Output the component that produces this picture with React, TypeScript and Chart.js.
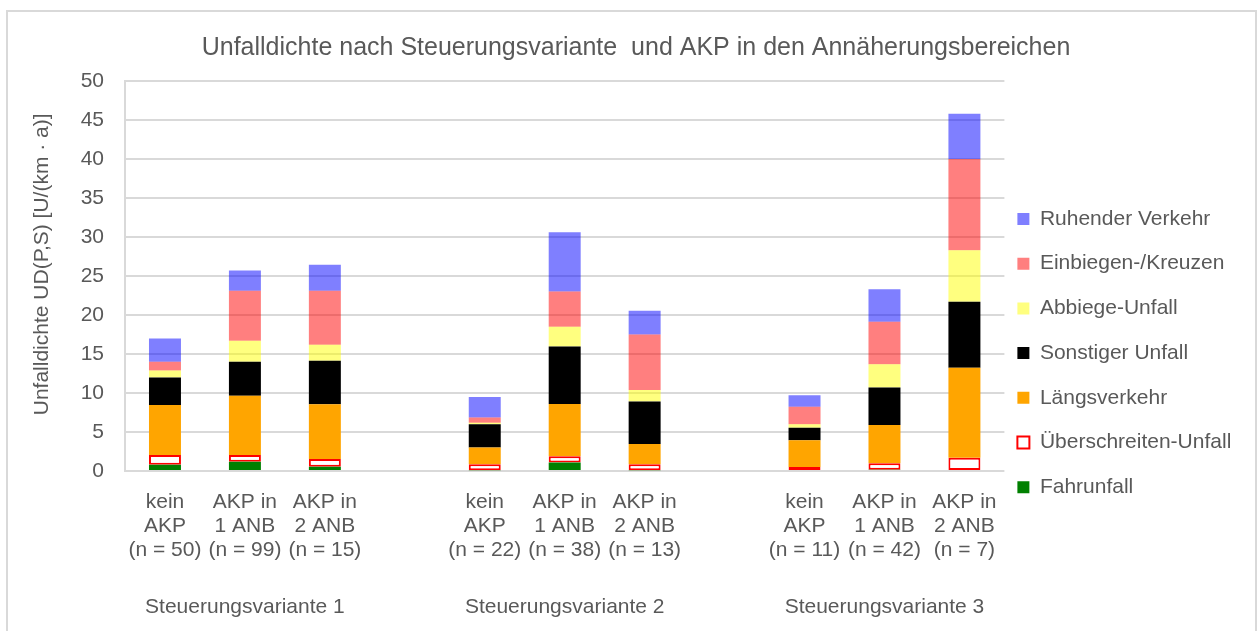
import React, { useEffect, useRef } from 'react';
import { Chart, registerables } from 'chart.js';

Chart.register(...registerables);

// ---- Data ----
const categories: (string | string[])[] = [
  ['kein', 'AKP', '(n = 50)'],
  ['AKP in', '1 ANB', '(n = 99)'],
  ['AKP in', '2 ANB', '(n = 15)'],
  '',
  ['kein', 'AKP', '(n = 22)'],
  ['AKP in', '1 ANB', '(n = 38)'],
  ['AKP in', '2 ANB', '(n = 13)'],
  '',
  ['kein', 'AKP', '(n = 11)'],
  ['AKP in', '1 ANB', '(n = 42)'],
  ['AKP in', '2 ANB', '(n = 7)'],
];

const groupLabels = [
  '', 'Steuerungsvariante 1', '', '',
  '', 'Steuerungsvariante 2', '', '',
  '', 'Steuerungsvariante 3', '',
];

const fahrunfall = [0.8, 1.2, 0.55, null, 0.1, 1.1, 0.1, null, 0, 0.15, 0];
const ueberschreiten = [1.25, 0.85, 1.0, null, 0.75, 0.8, 0.75, null, 0.5, 0.85, 1.7];
const laengsverkehr = [6.4, 7.6, 7.0, null, 2.15, 6.7, 2.6, null, 3.45, 4.9, 11.55];
const sonstiger = [3.55, 4.35, 5.6, null, 3.0, 7.35, 5.45, null, 1.6, 4.8, 8.45];
const abbiege = [0.9, 2.7, 2.05, null, 0.2, 2.55, 1.5, null, 0.45, 3.0, 6.6];
const einbiegen = [1.1, 6.4, 6.9, null, 0.65, 4.5, 7.1, null, 2.25, 5.45, 11.7];
const ruhend = [3.0, 2.6, 3.35, null, 2.65, 7.6, 3.05, null, 1.45, 4.15, 5.8];

const yMin = 0;
const yMax = 50;
const yStep = 5;

const TITLE = 'Unfalldichte nach Steuerungsvariante  und AKP in den Annäherungsbereichen';
const Y_TITLE = 'Unfalldichte UD(P,S) [U/(km · a)]';

const FONT = "'Liberation Sans', Arial, sans-serif";
const TEXT = '#595959';
const GRID = '#d9d9d9';

const legendPositioner = {
  id: 'legendPositioner',
  afterLayout(chart: any) {
    const lg = chart.legend;
    if (!lg) return;
    const pad = lg.options.labels.padding;
    const w = lg.width;
    lg.left = chart.chartArea.right + 13 - pad;
    lg.right = lg.left + w;
    lg.top = chart.chartArea.top + 127.5 - pad;
    lg.bottom = chart.height;
  },
};

export default function App() {
  const ref = useRef<HTMLCanvasElement | null>(null);

  useEffect(() => {
    if (!ref.current) return;
    Chart.defaults.font.family = FONT;
    const tickFont = { family: FONT, size: 21, lineHeight: 1.15 };
    const ds = (label: string, data: (number | null)[], bg: string, extra: any = {}) => ({
      label,
      data,
      backgroundColor: bg,
      borderWidth: 0,
      barPercentage: 0.4,
      categoryPercentage: 1.0,
      xAxisID: 'x',
      ...extra,
    });
    const chart = new Chart(ref.current, {
      type: 'bar',
      data: {
        labels: categories as any,
        datasets: [
          ds('Fahrunfall', fahrunfall, '#008000'),
          ds('Überschreiten-Unfall', ueberschreiten, '#ffffff', {
            borderColor: '#ff0000',
            borderWidth: 2,
            borderSkipped: false,
          }),
          ds('Längsverkehr', laengsverkehr, '#ffa500'),
          ds('Sonstiger Unfall', sonstiger, '#000000'),
          ds('Abbiege-Unfall', abbiege, 'rgba(255,255,0,0.5)'),
          ds('Einbiegen-/Kreuzen', einbiegen, 'rgba(255,0,0,0.5)'),
          ds('Ruhender Verkehr', ruhend, 'rgba(0,0,255,0.5)'),
        ] as any,
      },
      options: {
        animation: false,
        responsive: false,
        maintainAspectRatio: false,
        layout: { padding: { left: 20, right: 6, top: 0, bottom: 12 } },
        plugins: {
          title: {
            display: true,
            text: TITLE,
            color: TEXT,
            font: { family: FONT, size: 25, weight: 'normal', lineHeight: 1.2 },
            padding: { top: 33, bottom: 18 },
          },
          legend: {
            position: 'right',
            align: 'start',
            reverse: true,
            labels: {
              color: TEXT,
              font: { family: FONT, size: 21 },
              boxWidth: 12,
              boxHeight: 12,
              padding: 23.7,
            },
          },
          tooltip: { enabled: false },
        },
        scales: {
          x: {
            stacked: true,
            grid: { display: false, drawTicks: false },
            border: { display: false },
            ticks: {
              color: TEXT,
              font: tickFont,
              padding: 19,
              autoSkip: false,
              maxRotation: 0,
            },
            afterFit: (s: any) => {
              s.height = 91;
            },
          },
          x2: {
            type: 'category',
            position: 'bottom',
            labels: groupLabels,
            offset: true,
            weight: 1,
            grid: { display: false, drawTicks: false },
            border: { display: false },
            ticks: {
              color: TEXT,
              font: tickFont,
              padding: 33,
              autoSkip: false,
              maxRotation: 0,
            },
            afterFit: (s: any) => {
              s.height = 57;
            },
          },
          y: {
            stacked: true,
            min: yMin,
            max: yMax,
            ticks: {
              stepSize: yStep,
              color: TEXT,
              font: { family: FONT, size: 21 },
              padding: 21,
            },
            grid: { color: GRID, lineWidth: 2, drawTicks: false },
            border: { display: true, color: GRID, width: 2 },
            title: {
              display: true,
              text: '    ' + Y_TITLE,
              color: TEXT,
              font: { family: FONT, size: 21 },
              padding: { top: 10, bottom: 0 },
            },
            afterFit: (s: any) => {
              s.width = 105;
            },
          },
        },
      } as any,
      plugins: [legendPositioner],
    });
    return () => chart.destroy();
  }, []);

  return (
    <div style={{ position: 'absolute', left: 0, top: 0, width: 1258, height: 631, overflow: 'hidden', background: '#ffffff' }}>
      <div
        style={{
          position: 'absolute',
          left: 6,
          top: 10,
          width: 1251,
          height: 621,
          boxSizing: 'border-box',
          border: '2px solid #d9d9d9',
          borderBottom: 'none',
        }}
      />
      <canvas ref={ref} width={1258} height={631} style={{ position: 'absolute', left: 0, top: 0 }} />
    </div>
  );
}
